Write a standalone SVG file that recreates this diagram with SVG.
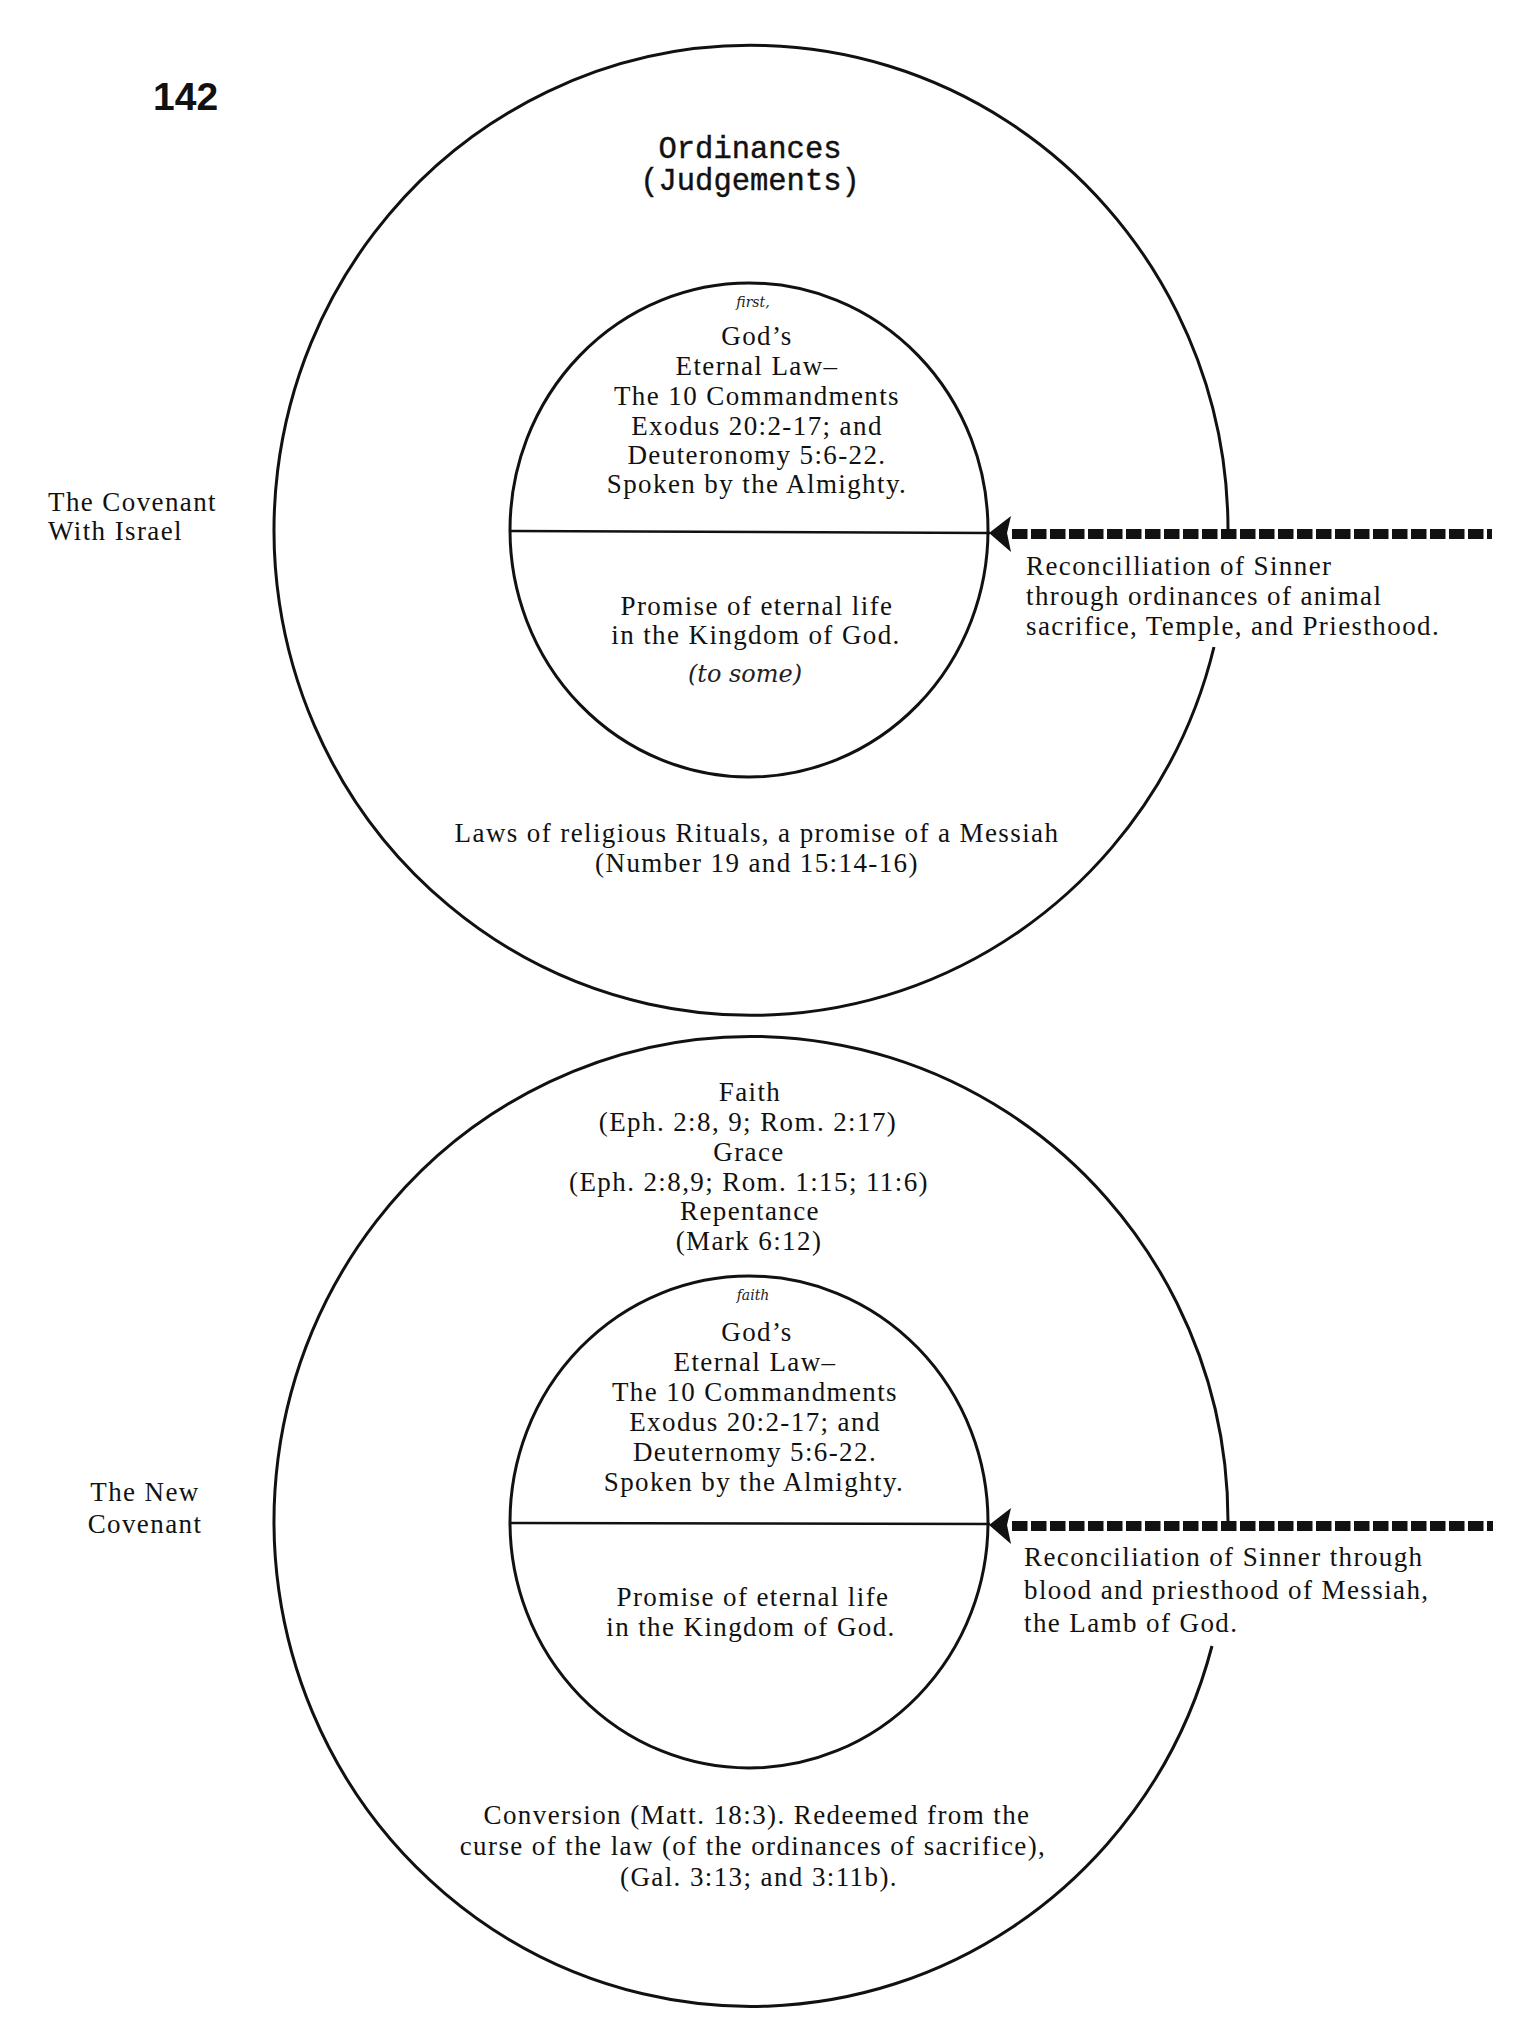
<svg xmlns="http://www.w3.org/2000/svg" width="1520" height="2040" viewBox="0 0 1520 2040">
<style>
.c{fill:none;stroke:#111;stroke-width:3}
.div{stroke:#111;stroke-width:2.5}
.t{font-family:"Liberation Serif","Times New Roman",serif;font-size:27px;letter-spacing:1.4px;fill:#111}
.m{text-anchor:middle}
.mono{font-family:"Liberation Mono","Courier New",monospace;font-size:30.5px;fill:#111;text-anchor:middle;stroke:#111;stroke-width:0.4}
.hw{font-family:"DejaVu Serif",serif;font-style:italic;fill:#222;text-anchor:middle}
.dash{stroke:#111;stroke-width:10;stroke-dasharray:15.5 3.5;fill:none}
.num{font-family:"Liberation Sans",Arial,sans-serif;font-weight:bold;font-size:39px;fill:#111}
</style>
<defs>
<path id="ah" d="M0,0 L22,-17 L18,0 L22,19 Z" fill="#111"/>
</defs>
<rect width="1520" height="2040" fill="#fff"/>
<text class="num" x="153" y="110">142</text>

<g id="covenant-israel">
<path class="c" d="M1228,532 A477,485 0 1 0 1214,647"/>
<text class="mono" x="750" y="158">Ordinances</text>
<text class="mono" x="750" y="190">(Judgements)</text>
<text class="t m" x="757" y="842" letter-spacing="1">Laws of religious Rituals, a promise of a Messiah</text>
<text class="t m" x="757" y="872">(Number 19 and 15:14-16)</text>
</g>
<g id="label-israel">
<text class="t" x="48" y="511" letter-spacing="1.8">The Covenant</text>
<text class="t" x="48" y="540" letter-spacing="1.8">With Israel</text>
</g>
<g id="law-israel">
<ellipse class="c" cx="749" cy="530" rx="239" ry="247"/>
<line class="div" x1="510" y1="531" x2="990" y2="533"/>
<text class="hw" x="753" y="307" font-size="14">first,</text>
<text class="t m" x="757" y="345">God’s</text>
<text class="t m" x="757" y="375">Eternal Law–</text>
<text class="t m" x="757" y="405">The 10 Commandments</text>
<text class="t m" x="757" y="435">Exodus 20:2-17; and</text>
<text class="t m" x="757" y="464">Deuteronomy 5:6-22.</text>
<text class="t m" x="757" y="493">Spoken by the Almighty.</text>
<text class="t m" x="757" y="615">Promise of eternal life</text>
<text class="t m" x="756" y="644">in the Kingdom of God.</text>
<text class="hw" x="745" y="682" font-size="24">(to some)</text>
</g>
<g id="reconcile-israel">
<text class="t" x="1026" y="575">Reconcilliation of Sinner</text>
<text class="t" x="1026" y="605">through ordinances of animal</text>
<text class="t" x="1026" y="635">sacrifice, Temple, and Priesthood.</text>
</g>

<g id="new-covenant">
<path class="c" d="M1228,1522 A477,485 0 1 0 1212,1646"/>
<text class="t m" x="750" y="1101">Faith</text>
<text class="t m" x="748" y="1131">(Eph. 2:8, 9; Rom. 2:17)</text>
<text class="t m" x="749" y="1161">Grace</text>
<text class="t m" x="749" y="1191">(Eph. 2:8,9; Rom. 1:15; 11:6)</text>
<text class="t m" x="750" y="1220">Repentance</text>
<text class="t m" x="749" y="1250">(Mark 6:12)</text>
<text class="t m" x="757" y="1824">Conversion (Matt. 18:3). Redeemed from the</text>
<text class="t m" x="753" y="1855" letter-spacing="1">curse of the law (of the ordinances of sacrifice),</text>
<text class="t m" x="759" y="1886">(Gal. 3:13; and 3:11b).</text>
</g>
<g id="label-new">
<text class="t m" x="145" y="1501" letter-spacing="1.8">The New</text>
<text class="t m" x="145" y="1533" letter-spacing="1.8">Covenant</text>
</g>
<g id="law-new">
<ellipse class="c" cx="749" cy="1522" rx="239" ry="246"/>
<line class="div" x1="510" y1="1523" x2="990" y2="1524"/>
<text class="hw" x="753" y="1300" font-size="14">faith</text>
<text class="t m" x="757" y="1341">God’s</text>
<text class="t m" x="755" y="1371">Eternal Law–</text>
<text class="t m" x="755" y="1401">The 10 Commandments</text>
<text class="t m" x="755" y="1431">Exodus 20:2-17; and</text>
<text class="t m" x="755" y="1461">Deuternomy 5:6-22.</text>
<text class="t m" x="754" y="1491">Spoken by the Almighty.</text>
<text class="t m" x="753" y="1606">Promise of eternal life</text>
<text class="t m" x="751" y="1636">in the Kingdom of God.</text>
</g>
<g id="reconcile-new">
<text class="t" x="1024" y="1566" letter-spacing="1.8">Reconciliation of Sinner through</text>
<text class="t" x="1024" y="1599" letter-spacing="1.8">blood and priesthood of Messiah,</text>
<text class="t" x="1024" y="1632" letter-spacing="1.8">the Lamb of God.</text>
</g>

<g id="connectors">
<line class="dash" x1="1012" y1="534" x2="1492" y2="534"/>
<use href="#ah" x="989" y="533"/>
<line class="dash" x1="1012" y1="1526" x2="1493" y2="1526"/>
<use href="#ah" x="989" y="1525"/>
</g>
</svg>
